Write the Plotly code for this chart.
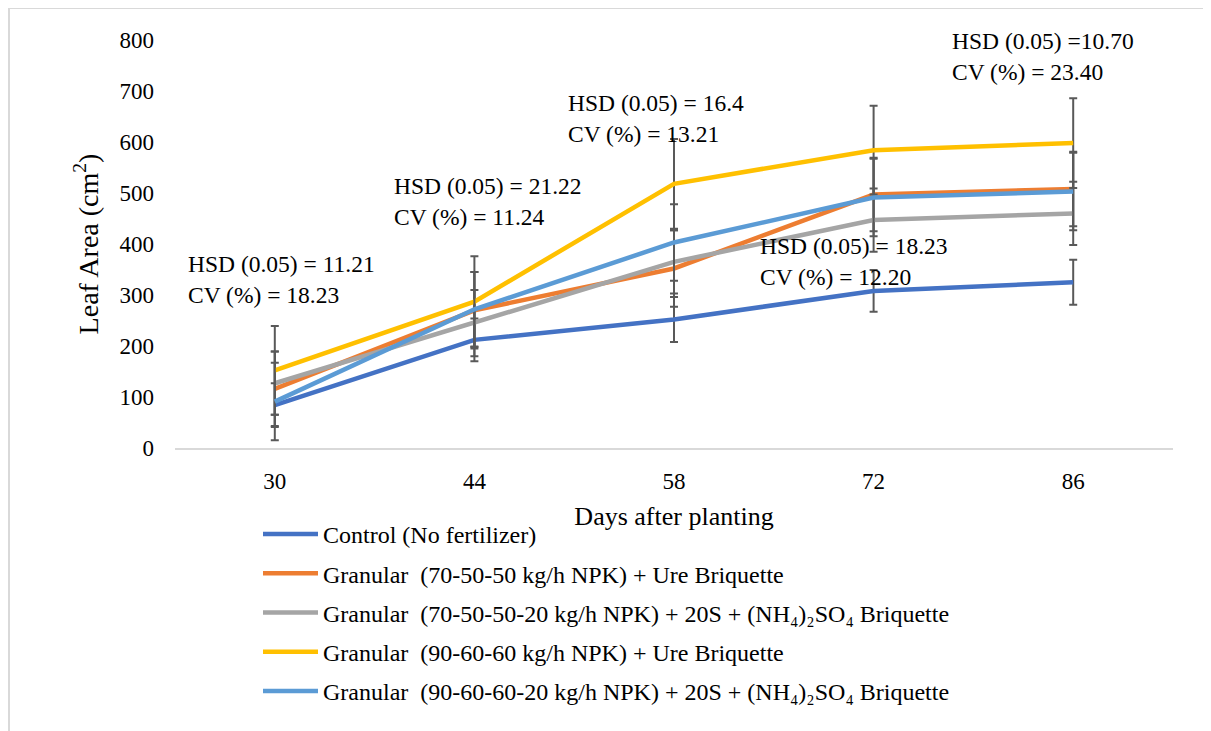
import plotly.graph_objects as go

days = ["30", "44", "58", "72", "86"]

series_names = [
    "Control (No fertilizer)",
    "Granular  (70-50-50 kg/h NPK) + Ure Briquette",
    "Granular  (70-50-50-20 kg/h NPK) + 20S + (NH₄)₂SO₄ Briquette",
    "Granular  (90-60-60 kg/h NPK) + Ure Briquette",
    "Granular  (90-60-60-20 kg/h NPK) + 20S + (NH₄)₂SO₄ Briquette",
]

control = [84, 212, 252, 308, 325]
g70_ure = [116, 270, 352, 497, 508]
g70_s = [127, 245, 365, 447, 460]
g90_ure = [152, 287, 518, 584, 598]
g90_s = [91, 272, 403, 491, 503]

control_err = [43, 42, 44, 41, 44]
g70_ure_err = [73, 75, 75, 72, 73]
g70_s_err = [62, 65, 62, 62, 62]
g90_ure_err = [87, 89, 88, 87, 88]
g90_s_err = [76, 73, 75, 76, 76]

colors = ["#4472C4", "#ED7D31", "#A5A5A5", "#FFC000", "#5B9BD5"]

annot_lines = [
    ("HSD (0.05) = 11.21", "CV (%) = 18.23"),
    ("HSD (0.05) = 21.22", "CV (%) = 11.24"),
    ("HSD (0.05) = 16.4", "CV (%) = 13.21"),
    ("HSD (0.05) = 18.23", "CV (%) = 12.20"),
    ("HSD (0.05) =10.70", "CV (%) = 23.40"),
]
# annotation anchor positions in page pixels
annot_pos = [(186, 279), (392, 201), (566, 118), (758, 261), (950, 57)]

FONT = "'Times New Roman', Tinos, 'Liberation Serif', 'DejaVu Serif', serif"

OX, OY = 8, 8  # page body margin
W, H = 1211 - OX, 731 - OY
# plot area in page pixels
PL, PR, PT, PB = 175, 1173, 40, 448
L, R, T, B = PL - OX, W - (PR - OX), PT - OY, H - (PB - OY)
pw = PR - PL
ph = PB - PT


def px_to_paper(px, py):
    return (px - PL) / pw, (PB - py) / ph


fig = go.Figure()
all_vals = [control, g70_ure, g70_s, g90_ure, g90_s]
all_errs = [control_err, g70_ure_err, g70_s_err, g90_ure_err, g90_s_err]
for i, (name, vals, errs) in enumerate(zip(series_names, all_vals, all_errs)):
    fig.add_trace(go.Scatter(
        x=days, y=vals, name=name, mode="lines",
        line=dict(color=colors[i], width=4.5),
        error_y=dict(type="data", array=errs, visible=True,
                     color="#595959", thickness=2, width=4),
        legendgroup=f"g{i}",
    ))

for (l1, l2), (px, py) in zip(annot_lines, annot_pos):
    ax, ay = px_to_paper(px, py)
    fig.add_annotation(
        x=ax, y=ay, xref="paper", yref="paper",
        text=l1 + "<br>" + l2, showarrow=False, align="left",
        xanchor="left", yanchor="middle",
        font=dict(family=FONT, size=23.5, color="#000000"),
    )

# outer chart border
bx0, by0 = px_to_paper(9, 745)
bx1, by1 = px_to_paper(1209, 8)
fig.add_shape(type="rect", xref="paper", yref="paper",
              x0=bx0, x1=bx1, y0=by0, y1=by1,
              line=dict(color="#D9D9D9", width=2), fillcolor="rgba(0,0,0,0)", layer="below")

lx, ly = px_to_paper(258, 512)
fig.update_layout(
    width=W, height=H,
    margin=dict(l=L, r=R, t=T, b=B, autoexpand=False),
    paper_bgcolor="white", plot_bgcolor="white",
    font=dict(family=FONT, size=20, color="#000000"),
    showlegend=True,
    legend=dict(
        orientation="v", x=lx, y=ly,
        xanchor="left", yanchor="top",
        traceorder="grouped", tracegroupgap=5, itemwidth=55,
        font=dict(family=FONT, size=24, color="#000000"),
        bgcolor="rgba(0,0,0,0)",
    ),
    xaxis=dict(
        type="category", range=[-0.5, 4.5],
        showgrid=False, showline=True, linecolor="#D9D9D9", linewidth=2,
        ticks="", ticklabelstandoff=11,
        tickfont=dict(family=FONT, size=23),
        title=dict(text="Days after planting", font=dict(family=FONT, size=26), standoff=14),
    ),
    yaxis=dict(
        range=[0, 800], dtick=100, showgrid=False, showline=False, zeroline=False,
        ticks="", ticklabelstandoff=20,
        tickfont=dict(family=FONT, size=23),
        title=dict(text="Leaf Area (cm<sup>2</sup>)", font=dict(family=FONT, size=28), standoff=12),
    ),
)

fig.write_html("out.html")
